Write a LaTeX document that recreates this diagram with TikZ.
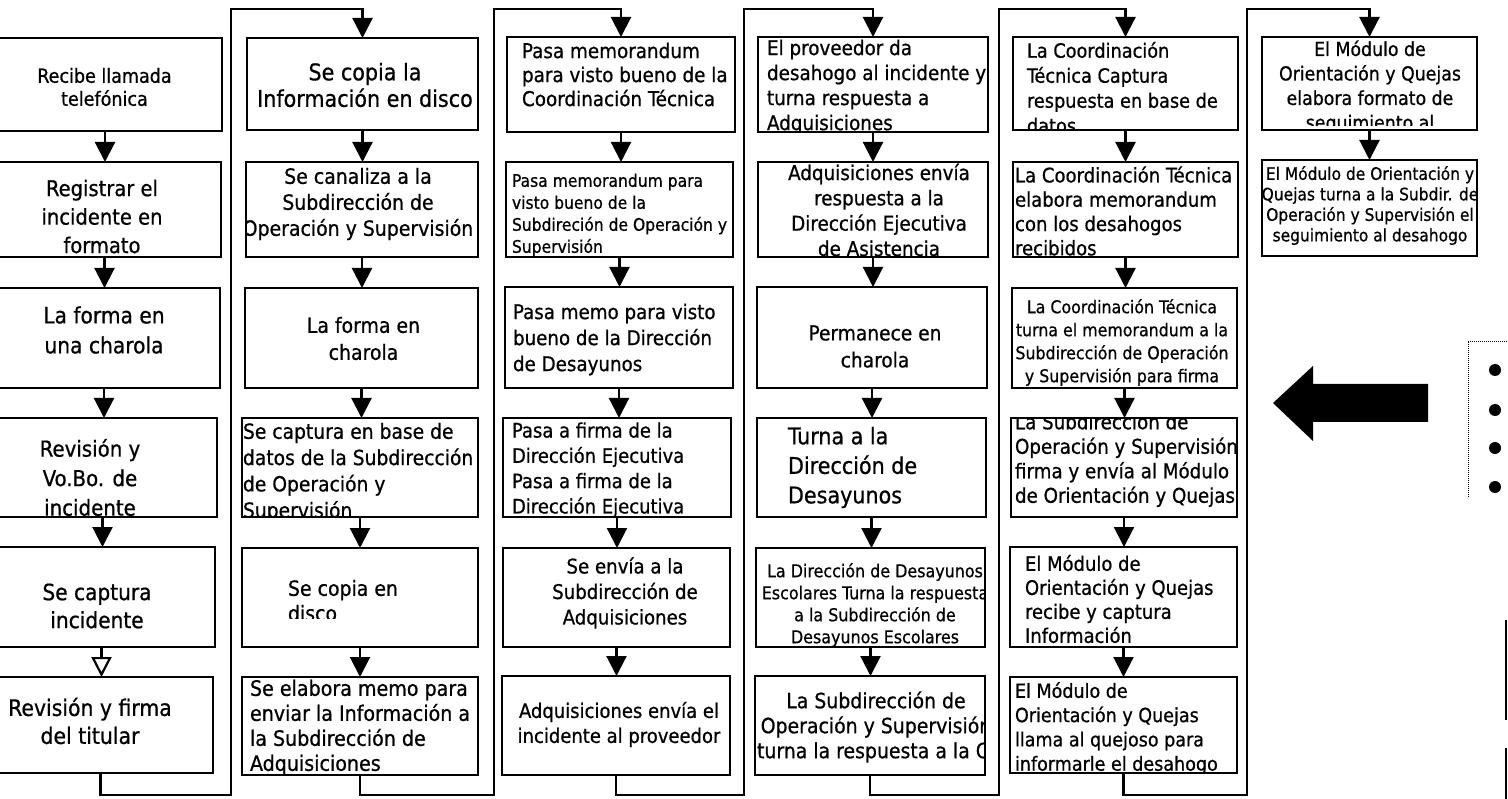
\documentclass[tikz,border=0pt]{standalone}
\usepackage{fontspec}
\setmainfont{DejaVu Sans Condensed}[FakeBold=0.7]
\usetikzlibrary{arrows.meta}
\newcommand\fs[2]{\fontsize{#1}{#2}\selectfont}
% #1 name, #2 x1, #3 y1, #4 x2, #5 y2, #6 clip y, #7 text options, #8 text
\newcommand\stepbox[8]{%
  \node[boxst, minimum width={((#4)-(#2))*1pt}, minimum height={((#5)-(#3))*1pt}]
    (#1) at ({((#2)+(#4))/2},{((#3)+(#5))/2}) {};
  \begin{scope}
    \clip (#2,#3) rectangle (#4,#6);
    \node[txt,#7] (#1t) {#8};
  \end{scope}}
\begin{document}
\begin{tikzpicture}[x=1pt,y=-1pt,
  boxst/.style={draw=black, line width=2.2pt, inner sep=0pt, outer sep=0pt, rectangle},
  txt/.style={inner sep=0pt, outer sep=0pt, text=black, anchor=center, align=center},
  conn/.style={draw=black, line width=2.2pt, -{Triangle[length=20pt,width=20pt]}},
  connopen/.style={draw=black, line width=2.2pt, -{Triangle[open,length=20pt,width=20pt]}}]
\useasboundingbox (0,0) rectangle (1508,799);
\fill[white] (0,0) rectangle (1508,799);

% column 1
\stepbox{c1b1}{-12}{38}{222}{131}{131}{at={(104.5,87)},font=\fs{19.5}{23}}{Recibe llamada\\telefónica}
\stepbox{c1b2}{-12}{162}{221}{257}{257}{at={(102,216.5)},font=\fs{21.7}{28.5}}{Registrar el\\incidente en\\formato}
\stepbox{c1b3}{-12}{288}{220}{388}{388}{at={(104,330)},font=\fs{22.5}{30}}{La forma en\\una charola}
\stepbox{c1b4}{-12}{418}{217}{517}{517}{at={(90,477.5)},font=\fs{22}{29.5}}{Revisión y\\Vo.Bo. de\\incidente}
\stepbox{c1b5}{-12}{547}{215}{647}{647}{at={(97,606)},font=\fs{22.4}{28}}{Se captura\\incidente}
\stepbox{c1b6}{-12}{677}{213}{773}{773}{at={(90,721)},font=\fs{22.7}{28}}{Revisión y firma\\del titular}

% column 2
\stepbox{c2b1}{247}{38}{478}{130}{130}{at={(365,85)},font=\fs{23}{26.5}}{Se copia la\\Información en disco}
\stepbox{c2b2}{246}{162}{478}{257}{257}{at={(358,204)},font=\fs{21}{26}}{Se canaliza a la\\Subdirección de\\Operación y Supervisión}
\stepbox{c2b3}{245}{288}{478}{388}{388}{at={(363.5,338.5)},font=\fs{21}{27}}{La forma en\\charola}
\stepbox{c2b4}{242}{418}{478}{517}{517}{at={(243,472.5)},anchor=west,align=left,font=\fs{20.8}{26.3}}{Se captura en base de\\datos de la Subdirección\\de Operación y\\Supervisión}
\stepbox{c2b5}{242}{548}{478}{647}{618}{at={(288,600.5)},anchor=west,align=left,font=\fs{21}{25}}{Se copia en\\disco}
\stepbox{c2b6}{242}{677}{478}{775}{775}{at={(250,727.5)},anchor=west,align=left,font=\fs{21.2}{25}}{Se elabora memo para\\enviar la Información a\\la Subdirección de\\Adquisiciones}

% column 3
\stepbox{c3b1}{507}{37}{735}{132}{132}{at={(522,74.5)},anchor=west,align=left,font=\fs{20.4}{24}}{Pasa memorandum\\para visto bueno de la\\Coordinación Técnica}
\stepbox{c3b2}{506}{162}{733}{257}{257}{at={(512,215)},anchor=west,align=left,font=\fs{17.3}{22}}{Pasa memorandum para\\visto bueno de la\\Subdireción de Operación y\\Supervisión}
\stepbox{c3b3}{505}{287}{733}{388}{388}{at={(513,339.5)},anchor=west,align=left,font=\fs{20.3}{26}}{Pasa memo para visto\\bueno de la Dirección\\de Desayunos}
\stepbox{c3b4}{503}{418}{731}{517}{517}{at={(512,470)},anchor=west,align=left,font=\fs{20}{25.3}}{Pasa a firma de la\\Dirección Ejecutiva\\Pasa a firma de la\\Dirección Ejecutiva}
\stepbox{c3b5}{503}{548}{730}{647}{647}{at={(625,593)},font=\fs{20.2}{25.5}}{Se envía a la\\Subdirección de\\Adquisiciones}
\stepbox{c3b6}{502}{676}{730}{775}{775}{at={(619,724.5)},font=\fs{20}{25}}{Adquisiciones envía el\\incidente al proveedor}

% column 4
\stepbox{c4b1}{758}{37}{988}{132}{132}{at={(767,87)},anchor=west,align=left,font=\fs{20.4}{25}}{El proveedor da\\desahogo al incidente y\\turna respuesta a\\Adquisiciones}
\stepbox{c4b2}{758}{162}{988}{257}{257}{at={(879,210)},font=\fs{20.4}{25.3}}{Adquisiciones envía\\respuesta a la\\Dirección Ejecutiva\\de Asistencia}
\stepbox{c4b3}{757}{287}{987}{388}{388}{at={(875,346.5)},font=\fs{20.7}{27}}{Permanece en\\charola}
\stepbox{c4b4}{757}{418}{986}{517}{517}{at={(788,467.5)},anchor=west,align=left,font=\fs{23}{29.5}}{Turna a la\\Dirección de\\Desayunos}
\stepbox{c4b5}{756}{548}{985}{647}{647}{at={(875,605)},font=\fs{17.7}{22}}{La Dirección de Desayunos\\Escolares Turna la respuesta\\a la Subdirección de\\Desayunos Escolares}
\stepbox{c4b6}{755}{676}{985}{775}{775}{at={(876,727)},font=\fs{21}{25}}{La Subdirección de\\Operación y Supervisión\\turna la respuesta a la C.}

% column 5
\stepbox{c5b1}{1013}{37}{1238}{130}{130}{at={(1027,87.5)},anchor=west,align=left,font=\fs{19.7}{25}}{La Coordinación\\Técnica Captura\\respuesta en base de\\datos}
\stepbox{c5b2}{1013}{162}{1238}{257}{257}{at={(1015,211)},anchor=west,align=left,font=\fs{20.1}{24.3}}{La Coordinación Técnica\\elabora memorandum\\con los desahogos\\recibidos}
\stepbox{c5b3}{1012}{288}{1237}{388}{388}{at={(1122,342.5)},font=\fs{17.6}{23}}{La Coordinación Técnica\\turna el memorandum a la\\Subdirección de Operación\\y Supervisión para firma}
\stepbox{c5b4}{1011}{418}{1237}{517}{517}{at={(1015,460)},anchor=west,align=left,font=\fs{20.3}{24.5}}{La Subdirección de\\Operación y Supervisión\\firma y envía al Módulo\\de Orientación y Quejas}
\stepbox{c5b5}{1010}{547}{1237}{647}{647}{at={(1025,599)},anchor=west,align=left,font=\fs{20}{24}}{El Módulo de\\Orientación y Quejas\\recibe y captura\\Información}
\stepbox{c5b6}{1010}{677}{1237}{773}{773}{at={(1015,728.5)},anchor=west,align=left,font=\fs{19.5}{24.3}}{El Módulo de\\Orientación y Quejas\\llama al quejoso para\\informarle el desahogo}

% column 6
\stepbox{c6b1}{1262}{37}{1477}{130}{126}{at={(1370,87)},font=\fs{19.3}{24.5}}{El Módulo de\\Orientación y Quejas\\elabora formato de\\seguimiento al}
\stepbox{c6b2}{1262}{160}{1477}{256}{256}{at={(1370,205.5)},font=\fs{17.2}{20.5}}{El Módulo de Orientación y\\Quejas turna a la Subdir. de\\Operación y Supervisión el\\seguimiento al desahogo}

% arrows inside columns
\foreach \i/\j in {1/2,2/3,3/4,4/5}{\draw[conn] (c1b\i.south) -- (c1b\i.south |- c1b\j.north);}
\draw[connopen] (c1b5.south) -- (c1b5.south |- c1b6.north);
\foreach \c in {2,3,4,5}{\foreach \i/\j in {1/2,2/3,3/4,4/5,5/6}{\draw[conn] (c\c b\i.south) -- (c\c b\i.south |- c\c b\j.north);}}
\draw[conn] (c6b1.south) -- (c6b1.south |- c6b2.north);

% connectors between columns
\coordinate (g1b) at (231,795); \coordinate (g1t) at (231,9);
\coordinate (g2b) at (494,795); \coordinate (g2t) at (494,9);
\coordinate (g3b) at (744,795); \coordinate (g3t) at (744,9);
\coordinate (g4b) at (999,795); \coordinate (g4t) at (999,9);
\coordinate (g5b) at (1247,795); \coordinate (g5t) at (1247,9);
\draw[conn] (c1b6.south) |- (g1b) -- (g1t) -| (c2b1.north);
\draw[conn] (c2b6.south) |- (g2b) -- (g2t) -| (c3b1.north);
\draw[conn] (c3b6.south) |- (g3b) -- (g3t) -| (c4b1.north);
\draw[conn] (c4b6.south) |- (g4b) -- (g4t) -| (c5b1.north);
\draw[conn] (c5b6.south) |- (g5b) -- (g5t) -| (c6b1.north);

% big left arrow
\fill[black] (1273,403) -- (1313,366) -- (1313,384) -- (1428,384) -- (1428,422) -- (1313,422) -- (1313,441) -- cycle;

% dotted frame and bullets at right
\draw[line width=1pt, densely dotted] (1468,342) -- (1468,497);
\draw[line width=1pt, densely dotted] (1468,342) -- (1508,342);
\foreach \yy in {370,410,448,487}{\fill[black] (1495,\yy) circle[radius=6pt];}

% right edge marks
\draw[line width=2pt] (1506,620) -- (1506,720);
\draw[line width=2pt] (1506,748) -- (1506,799);
\end{tikzpicture}
\end{document}
